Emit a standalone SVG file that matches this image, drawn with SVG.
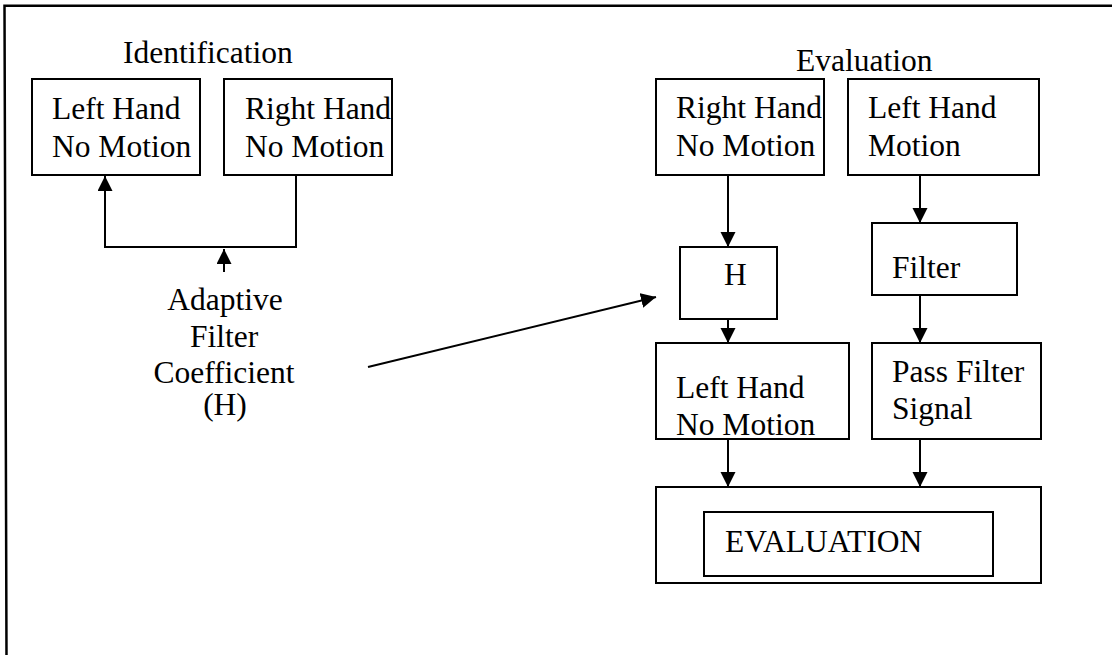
<svg xmlns="http://www.w3.org/2000/svg" width="1112" height="655" viewBox="0 0 1112 655">
<defs>
<style>
.box{fill:none;stroke:#000;stroke-width:2}
.ln{fill:none;stroke:#000;stroke-width:2}
.t{font-family:"Liberation Serif","Times New Roman",serif;font-size:31.5px;fill:#000}
.c{text-anchor:middle}
</style>
<marker id="ah" markerUnits="userSpaceOnUse" markerWidth="16" markerHeight="16" refX="15" refY="7.5" orient="auto">
<path d="M0,0 L15,7.5 L0,15 z" fill="#000"/>
</marker>
</defs>
<rect width="1112" height="655" fill="#fff"/>
<path d="M1112,5.7 L4.5,5.7 L6.5,655" fill="none" stroke="#000" stroke-width="2.5"/>
<text class="t" x="123" y="63">Identification</text>
<text class="t" x="796" y="71">Evaluation</text>
<g id="id-left">
<rect class="box" x="32" y="79" width="168" height="96"/>
<text class="t" x="52" y="119">Left Hand</text>
<text class="t" x="52" y="157">No Motion</text>
</g>
<g id="id-right">
<rect class="box" x="224" y="79" width="168" height="96"/>
<text class="t" x="245" y="119">Right Hand</text>
<text class="t" x="245" y="157">No Motion</text>
</g>
<g id="coef">
<text class="t c" x="225" y="310">Adaptive</text>
<text class="t c" x="224" y="347">Filter</text>
<text class="t c" x="224" y="383">Coefficient</text>
<text class="t c" x="225" y="415">(H)</text>
</g>
<g id="ev-right">
<rect class="box" x="656" y="79" width="168" height="96"/>
<text class="t" x="676" y="118">Right Hand</text>
<text class="t" x="676" y="156">No Motion</text>
</g>
<g id="ev-left">
<rect class="box" x="848" y="79" width="191" height="96"/>
<text class="t" x="868" y="118">Left Hand</text>
<text class="t" x="868" y="156">Motion</text>
</g>
<g id="h">
<rect class="box" x="680" y="247" width="97" height="72"/>
<text class="t" x="724" y="285">H</text>
</g>
<g id="filter">
<rect class="box" x="872" y="223" width="145" height="72"/>
<text class="t" x="892" y="278">Filter</text>
</g>
<g id="lhnm">
<rect class="box" x="656" y="343" width="193" height="96"/>
<text class="t" x="676" y="398">Left Hand</text>
<text class="t" x="676" y="435">No Motion</text>
</g>
<g id="pass">
<rect class="box" x="872" y="343" width="169" height="96"/>
<text class="t" x="892" y="382">Pass Filter</text>
<text class="t" x="892" y="419">Signal</text>
</g>
<g id="evaluation">
<rect class="box" x="656" y="487" width="385" height="96"/>
<rect class="box" x="704" y="512" width="289" height="64"/>
<text class="t" x="725" y="552">EVALUATION</text>
</g>
<g id="connectors">
<path class="ln" d="M296,175 V247 H105 V176" marker-end="url(#ah)"/>
<path class="ln" d="M224,272 V249" marker-end="url(#ah)"/>
<path class="ln" d="M368,367 L656,297" marker-end="url(#ah)"/>
<path class="ln" d="M728,175 V247" marker-end="url(#ah)"/>
<path class="ln" d="M920,175 V223" marker-end="url(#ah)"/>
<path class="ln" d="M728,319 V343" marker-end="url(#ah)"/>
<path class="ln" d="M920,295 V343" marker-end="url(#ah)"/>
<path class="ln" d="M728,439 V487" marker-end="url(#ah)"/>
<path class="ln" d="M920,439 V487" marker-end="url(#ah)"/>
</g>
</svg>
